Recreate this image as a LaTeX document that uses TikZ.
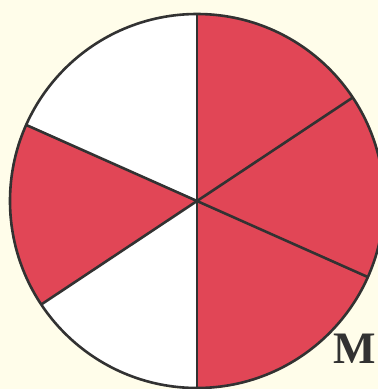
\documentclass[tikz,border=0pt]{standalone}
\usepackage{fontspec}
\setmainfont{Liberation Serif}
\definecolor{bg}{RGB}{255,253,234}
\definecolor{redfill}{RGB}{225,70,86}
\definecolor{edge}{RGB}{50,50,50}
\begin{document}
\begin{tikzpicture}[x=1pt,y=-1pt,
  sector/.style={draw=edge,line width=2.6pt,line join=round},
  lbl/.style={font=\fontsize{45}{45}\bfseries\selectfont,text=edge,inner sep=0pt}]
\fill[bg] (0,0) rectangle (378,389);
\useasboundingbox (0,0) rectangle (378,389);
\coordinate (c) at (197,201);
\def\R{187}
\fill[redfill] (c) -- ++(-90:\R) arc[start angle=-90,end angle=-33.6,radius=\R] -- cycle;
\fill[redfill] (c) -- ++(-33.6:\R) arc[start angle=-33.6,end angle=24,radius=\R] -- cycle;
\fill[redfill] (c) -- ++(24:\R) arc[start angle=24,end angle=90,radius=\R] -- cycle;
\fill[white] (c) -- ++(90:\R) arc[start angle=90,end angle=146.4,radius=\R] -- cycle;
\fill[redfill] (c) -- ++(146.4:\R) arc[start angle=146.4,end angle=204,radius=\R] -- cycle;
\fill[white] (c) -- ++(204:\R) arc[start angle=204,end angle=270,radius=\R] -- cycle;
\draw[sector] (c) circle[radius=\R];
\draw[sector] (c) -- ++(-90:\R);
\draw[sector] (c) -- ++(90:\R);
\draw[sector] (c) -- ++(-33.6:\R);
\draw[sector] (c) -- ++(146.4:\R);
\draw[sector] (c) -- ++(24:\R);
\draw[sector] (c) -- ++(204:\R);
\node[lbl] (M) at (355,349) {M};
\end{tikzpicture}
\end{document}
